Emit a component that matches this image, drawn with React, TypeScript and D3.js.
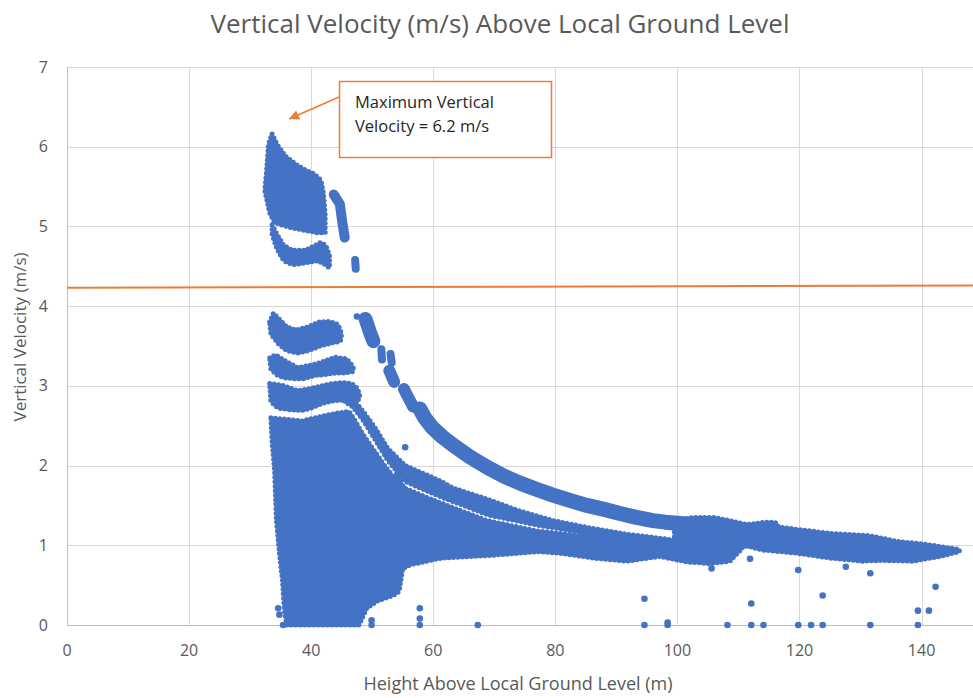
import React, { useRef, useEffect } from 'react';
import * as d3 from 'd3';

type Pt = [number, number];

const W = 973;
const H = 698;

const xTicks = [0, 20, 40, 60, 80, 100, 120, 140];
const yTicks = [0, 1, 2, 3, 4, 5, 6, 7];

// outlines of the dense point clouds (height m, velocity m/s)
const topBlob: Pt[] = [
  [33.6, 6.16], [34.4, 6.03], [35.8, 5.88], [37.5, 5.78], [39.2, 5.7], [40.5, 5.66],
  [41.6, 5.58], [42.0, 5.42], [42.3, 5.15], [42.3, 4.92], [41, 4.92], [39, 4.95],
  [37, 4.98], [35, 5.02], [34.0, 5.05], [33.2, 5.17], [32.4, 5.45], [32.7, 5.7], [33.0, 6.03],
];
const topArc: Pt[] = [
  [33.6, 5.02], [34.4, 4.9], [35.5, 4.76], [37, 4.7], [39, 4.7], [40.6, 4.76],
  [41.6, 4.8], [42.4, 4.76], [43.0, 4.64], [43.0, 4.48], [42.3, 4.52], [41, 4.57],
  [39, 4.54], [37, 4.52], [35.5, 4.57], [34.4, 4.72], [33.6, 4.9],
];
const bandA: Pt[] = [
  [33.2, 3.8], [33.8, 3.91], [34.6, 3.85], [36, 3.74], [37.5, 3.7], [39.5, 3.74],
  [41.2, 3.8], [43.0, 3.81], [44.4, 3.77], [45.0, 3.65], [44.8, 3.56], [43.5, 3.54],
  [41.5, 3.5], [39.5, 3.44], [37.8, 3.41], [36.0, 3.44], [34.6, 3.53], [33.4, 3.65],
];
const bandB: Pt[] = [
  [33.2, 3.35], [34.2, 3.39], [36, 3.3], [37.8, 3.23], [40, 3.26], [41.8, 3.3],
  [43.9, 3.36], [45.8, 3.34], [46.9, 3.24], [46.9, 3.18], [45.5, 3.16], [43.9, 3.16],
  [42, 3.14], [40.6, 3.13], [38.8, 3.09], [37.4, 3.09], [35.5, 3.1], [34.3, 3.14], [33.4, 3.21],
];
const bandC: Pt[] = [
  [33.2, 3.03], [35.2, 3.01], [37.8, 2.94], [40, 2.97], [41.8, 3.0], [43.5, 3.03],
  [45.1, 3.04], [46.6, 3.03], [47.6, 2.97], [48.0, 2.86], [47.5, 2.8], [45.1, 2.82],
  [43.5, 2.81], [41.8, 2.78], [40, 2.72], [38.5, 2.69], [36.5, 2.7], [34.6, 2.72], [33.4, 2.8],
];
const column: Pt[] = [
  [33.4, 2.6], [36, 2.58], [38.5, 2.56], [41.8, 2.62], [44.4, 2.66], [46.2, 2.68],
  [47.3, 2.55], [48.4, 2.4], [52.2, 1.98], [55.0, 1.72], [56.3, 1.66], [56.4, 0.76],
  [55, 0.71], [54.4, 0.42], [53.4, 0.37], [50.8, 0.3], [49.1, 0.21], [48.2, 0.06],
  [47.8, 0], [36.0, 0], [35.6, 0.2], [35.3, 0.56], [34.8, 0.9], [34.3, 1.32],
  [34.0, 1.94], [33.6, 2.3],
];
const lowerTail: Pt[] = [
  [54.0, 1.9], [55.2, 1.72], [60.6, 1.55], [68.8, 1.31], [77, 1.18], [83, 1.13],
  [90, 1.07], [97, 1.03], [103, 1.0], [108, 0.99], [110.5, 0.95], [109.3, 0.86],
  [108.6, 0.8], [105.3, 0.77], [101.6, 0.79], [97.1, 0.86], [91.7, 0.8], [86.2, 0.84],
  [80.8, 0.9], [77.2, 0.92], [69, 0.87], [61.4, 0.84], [56.5, 0.76], [54.0, 0.76],
];
const bandD: Pt[] = [
  [45.6, 2.88], [47.0, 2.82], [48.6, 2.67], [50.5, 2.47], [52.5, 2.22], [55.4, 2.0],
  [61.1, 1.81], [63.2, 1.72], [68.8, 1.58], [74.2, 1.43], [79.6, 1.31], [86.2, 1.21],
  [91.7, 1.14], [97.1, 1.09], [100, 1.06], [95, 1.03], [88, 1.08], [83, 1.18],
  [77.2, 1.25], [69, 1.38], [60.8, 1.62], [55.4, 1.8], [52.6, 2.06], [50.2, 2.36],
  [48.6, 2.56], [46.8, 2.74], [45.5, 2.8],
];
const rightBand: Pt[] = [
  [99.5, 1.27], [101, 1.32], [102.6, 1.35], [105.8, 1.35], [108, 1.32], [111.4, 1.26],
  [114.5, 1.29], [116, 1.29], [116.6, 1.23], [119.6, 1.2], [125, 1.15], [131.5, 1.12],
  [136, 1.05], [140.9, 1.01], [144.2, 0.97], [146.2, 0.95], [146.2, 0.92], [143, 0.86],
  [138.6, 0.8], [133.2, 0.81], [130.4, 0.8], [125, 0.84], [119.6, 0.9], [114, 0.94],
  [111.4, 0.99], [109.8, 0.95], [105, 1.02], [99.5, 1.07],
];

// thin curving streaks, read as centre lines
const streaks: { pts: Pt[]; w: number }[] = [
  { pts: [[43.7, 5.4], [44.7, 5.28], [45.1, 5.05], [45.5, 4.86]], w: 10 },
  { pts: [[47.2, 4.58], [47.3, 4.47]], w: 8 },
  { pts: [[48.9, 3.84], [49.6, 3.68], [50.2, 3.56]], w: 14 },
  { pts: [[51.5, 3.46], [51.6, 3.33]], w: 8 },
  { pts: [[53.0, 3.4], [53.2, 3.29]], w: 8 },
  { pts: [[52.8, 3.19], [53.6, 3.05]], w: 12 },
  { pts: [[55.2, 2.96], [56.0, 2.84], [56.7, 2.74]], w: 12 },
  {
    pts: [
      [57.8, 2.71], [58.6, 2.6], [59.8, 2.48], [61.5, 2.36], [63.2, 2.26], [66, 2.11],
      [68.8, 1.98], [71.5, 1.87], [74.2, 1.78], [77, 1.7], [79.6, 1.63], [82.5, 1.56],
      [85.2, 1.5], [88, 1.45], [90.6, 1.4], [93.3, 1.35], [96, 1.31], [98, 1.29],
      [101, 1.27], [104, 1.27],
    ],
    w: 15,
  },
];

const outliers: Pt[] = [
  [34.6, 0.21], [34.8, 0.13], [35.4, 0], [47.5, 3.87], [55.4, 2.23], [49.9, 0.06], [49.9, 0],
  [57.8, 0.21], [57.8, 0.08], [57.8, 0], [67.3, 0], [94.6, 0.33], [94.6, 0], [98.4, 0.03],
  [98.4, 0], [105.6, 0.71], [108.2, 0], [111.9, 0.83], [112.1, 0.27], [112.1, 0], [114.1, 0],
  [119.8, 0.69], [119.8, 0], [121.9, 0], [123.8, 0.37], [123.8, 0], [127.6, 0.73],
  [131.6, 0.65], [131.6, 0], [139.4, 0.18], [139.4, 0], [141.2, 0.18], [142.3, 0.48],
];

const threshold: Pt[] = [[0, 4.23], [150, 4.26]];

const BLUE = '#4472C4';
const ORANGE = '#ED7D31';
const FONT = "'Open Sans', 'Liberation Sans', sans-serif";

const App = () => {
  const ref = useRef<SVGSVGElement>(null);

  useEffect(() => {
    const svg = d3.select(ref.current);
    svg.selectAll('*').remove();

    const x = d3.scaleLinear().domain([0, 150]).range([67, 982.6]);
    const y = d3.scaleLinear().domain([0, 7]).range([625, 67]);
    const crisp = (v: number) => Math.round(v) + 0.5;

    // gridlines
    svg.append('g')
      .selectAll('line')
      .data(xTicks.slice(1))
      .join('line')
      .attr('x1', d => crisp(x(d)))
      .attr('x2', d => crisp(x(d)))
      .attr('y1', y(0))
      .attr('y2', y(7))
      .attr('stroke', '#d9d9d9');
    svg.append('g')
      .selectAll('line')
      .data(yTicks.slice(1))
      .join('line')
      .attr('x1', x(0))
      .attr('x2', x(150))
      .attr('y1', d => crisp(y(d)))
      .attr('y2', d => crisp(y(d)))
      .attr('stroke', '#d9d9d9');

    // axis lines
    svg.append('line')
      .attr('x1', crisp(x(0))).attr('x2', crisp(x(0)))
      .attr('y1', y(7)).attr('y2', y(0))
      .attr('stroke', '#bfbfbf');
    svg.append('line')
      .attr('x1', x(0)).attr('x2', x(150))
      .attr('y1', crisp(y(0))).attr('y2', crisp(y(0)))
      .attr('stroke', '#bfbfbf');

    // tick labels
    svg.append('g')
      .selectAll('text')
      .data(yTicks)
      .join('text')
      .attr('x', 48)
      .attr('y', d => y(d) + 5.5)
      .attr('text-anchor', 'end')
      .attr('font-size', 16)
      .attr('font-family', FONT)
      .attr('fill', '#595959')
      .text(d => d);
    svg.append('g')
      .selectAll('text')
      .data(xTicks)
      .join('text')
      .attr('x', d => x(d))
      .attr('y', 656)
      .attr('text-anchor', 'middle')
      .attr('font-size', 16)
      .attr('font-family', FONT)
      .attr('fill', '#595959')
      .text(d => d);

    // data clouds, filled, with a dotted rim so the edge reads as markers
    const area = d3.line<Pt>()
      .x(d => x(d[0]))
      .y(d => y(d[1]))
      .curve(d3.curveLinearClosed);
    const path = d3.line<Pt>()
      .x(d => x(d[0]))
      .y(d => y(d[1]));

    const clouds = [topBlob, topArc, bandA, bandB, bandC, column, lowerTail, bandD, rightBand];
    svg.append('g')
      .selectAll('path')
      .data(clouds)
      .join('path')
      .attr('d', d => area(d))
      .attr('fill', BLUE)
      .attr('stroke', BLUE)
      .attr('stroke-width', 5)
      .attr('stroke-dasharray', '0 4.5')
      .attr('stroke-linecap', 'round')
      .attr('stroke-linejoin', 'round');

    svg.append('g')
      .selectAll('path')
      .data(streaks)
      .join('path')
      .attr('d', d => path(d.pts))
      .attr('fill', 'none')
      .attr('stroke', BLUE)
      .attr('stroke-width', d => d.w)
      .attr('stroke-linecap', 'round')
      .attr('stroke-linejoin', 'round');

    svg.append('g')
      .selectAll('circle')
      .data(outliers)
      .join('circle')
      .attr('cx', d => x(d[0]))
      .attr('cy', d => y(d[1]))
      .attr('r', 3.3)
      .attr('fill', BLUE);

    // threshold line
    svg.append('path')
      .attr('d', path(threshold))
      .attr('fill', 'none')
      .attr('stroke', ORANGE)
      .attr('stroke-width', 2);

    // annotation
    const defs = svg.append('defs');
    defs.append('marker')
      .attr('id', 'arrow')
      .attr('viewBox', '0 0 10 10')
      .attr('refX', 10)
      .attr('refY', 5)
      .attr('markerWidth', 13)
      .attr('markerHeight', 10)
      .attr('markerUnits', 'userSpaceOnUse')
      .attr('orient', 'auto')
      .append('path')
      .attr('d', 'M0,0 L10,5 L0,10 z')
      .attr('fill', ORANGE);
    svg.append('line')
      .attr('x1', 339).attr('y1', 97)
      .attr('x2', 289).attr('y2', 119)
      .attr('stroke', ORANGE)
      .attr('stroke-width', 1.5)
      .attr('marker-end', 'url(#arrow)');
    svg.append('rect')
      .attr('x', 339.5).attr('y', 81.5)
      .attr('width', 212).attr('height', 76)
      .attr('fill', '#fff')
      .attr('stroke', ORANGE)
      .attr('stroke-width', 1.5);
    const note = svg.append('text')
      .attr('font-size', 16.5)
      .attr('font-family', FONT)
      .attr('fill', '#262626');
    note.append('tspan').attr('x', 355).attr('y', 108).text('Maximum Vertical');
    note.append('tspan').attr('x', 355).attr('y', 132).text('Velocity = 6.2 m/s');

    // titles
    svg.append('text')
      .attr('x', 500)
      .attr('y', 33)
      .attr('text-anchor', 'middle')
      .attr('font-size', 26)
      .attr('font-family', FONT)
      .attr('fill', '#595959')
      .text('Vertical Velocity (m/s) Above Local Ground Level');
    svg.append('text')
      .attr('x', 518)
      .attr('y', 690)
      .attr('text-anchor', 'middle')
      .attr('font-size', 18)
      .attr('font-family', FONT)
      .attr('fill', '#595959')
      .text('Height Above Local Ground Level (m)');
    svg.append('text')
      .attr('transform', 'translate(26,337) rotate(-90)')
      .attr('text-anchor', 'middle')
      .attr('font-size', 17)
      .attr('font-family', FONT)
      .attr('fill', '#595959')
      .text('Vertical Velocity (m/s)');
  }, []);

  return (
    <div style={{ position: 'absolute', left: 0, top: 0 }}>
      <svg ref={ref} width={W} height={H} style={{ display: 'block', background: '#fff' }}></svg>
    </div>
  );
};

export default App;
